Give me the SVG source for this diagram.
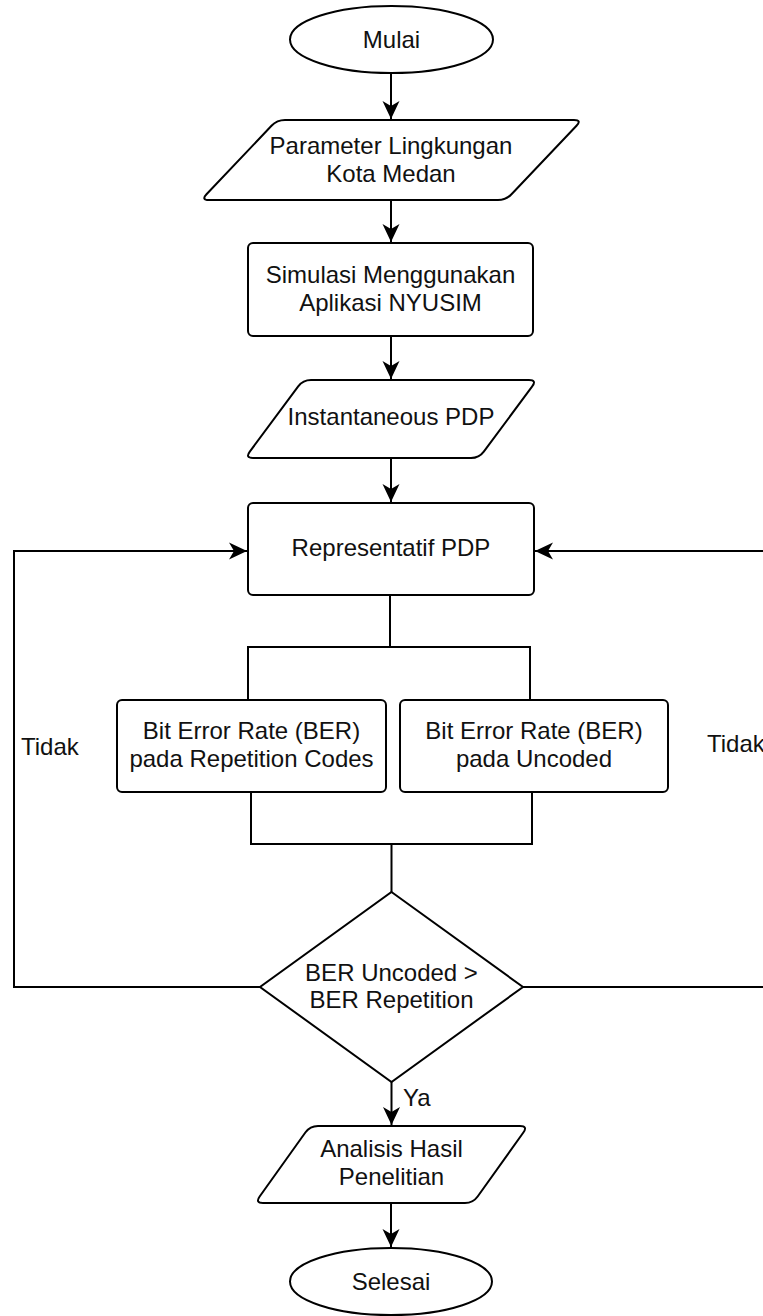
<svg xmlns="http://www.w3.org/2000/svg" width="763" height="1316" viewBox="0 0 763 1316">
<style>
.s{fill:#fff;stroke:#000;stroke-width:2}
.c{fill:none;stroke:#000;stroke-width:2}
text{font-family:"Liberation Sans",Arial,sans-serif;font-size:24px;fill:#111;text-anchor:middle}
.l{text-anchor:start}
</style>
<defs>
<marker id="ar" markerUnits="userSpaceOnUse" markerWidth="20" markerHeight="20" viewBox="-19 -10 20 20" refX="0" refY="0" orient="auto">
<path d="M0,0 L-18,-8.5 L-13,0 L-18,8.5 Z" fill="#000"/>
</marker>
</defs>
<rect width="763" height="1316" fill="#fff"/>
<g id="connectors">
<path class="c" d="M391,73 V119" marker-end="url(#ar)"/>
<path class="c" d="M391,200 V242" marker-end="url(#ar)"/>
<path class="c" d="M391,336 V379" marker-end="url(#ar)"/>
<path class="c" d="M391,458 V502" marker-end="url(#ar)"/>
<path class="c" d="M390,595 V647"/>
<path class="c" d="M248,700 V647 H530 V700"/>
<path class="c" d="M251,792 V844 H532 V792"/>
<path class="c" d="M391.5,844 V892"/>
<path class="c" d="M260,987 H14 V551 H247" marker-end="url(#ar)"/>
<path class="c" d="M523,987 H770 V551 H535" marker-end="url(#ar)"/>
<path class="c" d="M391.5,1082 V1125" marker-end="url(#ar)"/>
<path class="c" d="M391,1203 V1247" marker-end="url(#ar)"/>
<text class="l" x="21" y="755">Tidak</text>
<text class="l" x="707" y="752">Tidak</text>
<text class="l" x="403" y="1106">Ya</text>
</g>
<g id="mulai">
<ellipse class="s" cx="391.5" cy="39.5" rx="101.5" ry="33.5"/>
<text x="391.5" y="48">Mulai</text>
</g>
<g id="parameter">
<path class="s" d="M285,120 L574,120 Q582,120 576.5,125.8 L511.5,194.2 Q506,200 498,200 L209,200 Q201,200 206.5,194.2 L271.5,125.8 Q277,120 285,120 Z"/>
<text x="391" y="154">Parameter Lingkungan</text>
<text x="391" y="182">Kota Medan</text>
</g>
<g id="simulasi">
<rect class="s" x="248" y="243" width="285" height="93" rx="5"/>
<text x="390.5" y="283">Simulasi Menggunakan</text>
<text x="390.5" y="311">Aplikasi NYUSIM</text>
</g>
<g id="instantaneous">
<path class="s" d="M311,380 L529,380 Q537,380 532.2,386.4 L483.8,451.6 Q479,458 471,458 L253,458 Q245,458 249.8,451.6 L298.2,386.4 Q303,380 311,380 Z"/>
<text x="391" y="425">Instantaneous PDP</text>
</g>
<g id="representatif">
<rect class="s" x="248" y="503" width="286" height="92" rx="5"/>
<text x="391" y="556">Representatif PDP</text>
</g>
<g id="ber-repetition">
<rect class="s" x="117" y="700" width="269" height="92" rx="5"/>
<text x="251.5" y="739">Bit Error Rate (BER)</text>
<text x="251.5" y="767">pada Repetition Codes</text>
</g>
<g id="ber-uncoded">
<rect class="s" x="400" y="700" width="268" height="92" rx="5"/>
<text x="534" y="739">Bit Error Rate (BER)</text>
<text x="534" y="767">pada Uncoded</text>
</g>
<g id="decision">
<path class="s" d="M391.5,892 L523,987 L391.5,1082 L260,987 Z"/>
<text x="391.5" y="981">BER Uncoded &gt;</text>
<text x="391.5" y="1008">BER Repetition</text>
</g>
<g id="analisis">
<path class="s" d="M318,1126 L520,1126 Q528,1126 523.35,1132.5 L477.65,1196.5 Q473,1203 465,1203 L263,1203 Q255,1203 259.65,1196.5 L305.35,1132.5 Q310,1126 318,1126 Z"/>
<text x="391.5" y="1157">Analisis Hasil</text>
<text x="391.5" y="1185">Penelitian</text>
</g>
<g id="selesai">
<ellipse class="s" cx="391" cy="1281.5" rx="101" ry="33.5"/>
<text x="391" y="1290">Selesai</text>
</g>
</svg>
